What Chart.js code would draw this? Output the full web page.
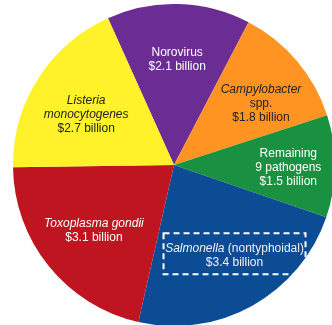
<!DOCTYPE html>
<html>
<head>
<meta charset="utf-8">
<script src="https://cdn.jsdelivr.net/npm/chart.js@4"></script>
<style>
  html, body { margin: 0; padding: 0; background: #fff; overflow: hidden; }
  body { width: 332px; height: 325px; position: relative; }
  #wrap { position: absolute; left: 13px; top: 4px; width: 322px; height: 322px; }
</style>
</head>
<body>
<div id="wrap"><canvas id="pieChart" width="322" height="322"></canvas></div>
<script>
// pathogens, clockwise from the top
const pathogens = ['Norovirus', 'Campylobacter spp.', 'Remaining 9 pathogens', 'Salmonella (nontyphoidal)', 'Toxoplasma gondii', 'Listeria monocytogenes'];
const costBillions = [2.1, 1.8, 1.5, 3.4, 3.1, 2.7];
const sliceColors = ['#6b2c94', '#ff9422', '#1a9140', '#0b4c94', '#be1521', '#fff22a'];

// label lines: [text, italic] parts per line
const labelLines = [
    [[['Norovirus', false]], [['$2.1 billion', false]]],
    [[['Campylobacter', true]], [['spp.', false]], [['$1.8 billion', false]]],
    [[['Remaining', false]], [['9 pathogens', false]], [['$1.5 billion', false]]],
    [[['Salmonella', true], [' (nontyphoidal)', false]], [['$3.4 billion', false]]],
    [[['Toxoplasma gondii', true]], [['$3.1 billion', false]]],
    [[['Listeria', true]], [['monocytogenes', true]], [['$2.7 billion', false]]],
];
const labelColors = ['#ffffff', '#222222', '#ffffff', '#f0f0f0', '#ffffff', '#222222'];

// small nudges for label placement (degrees, fraction of radius, px down)
const labelAngleShift = [0, 4, 0, -5, 0, -1];
const labelRadius = [0.67, 0.67, 0.71, 0.67, 0.64, 0.64];
const labelDrop = [3, 2, 2, 1, 1, 4];

const sliceLabels = {
    id: 'sliceLabels',
    afterDatasetsDraw(chart) {
        const ctx = chart.ctx;
        const meta = chart.getDatasetMeta(0);
        const lineH = 14;
        ctx.save();
        ctx.textBaseline = 'middle';
        meta.data.forEach((arc, i) => {
            const p = arc.getProps(['x', 'y', 'startAngle', 'endAngle', 'outerRadius'], true);
            const mid = (p.startAngle + p.endAngle) / 2 + labelAngleShift[i] * Math.PI / 180;
            const cx = p.x + Math.cos(mid) * p.outerRadius * labelRadius[i];
            const cy = p.y + Math.sin(mid) * p.outerRadius * labelRadius[i] + labelDrop[i];
            const lines = labelLines[i];
            const top = cy - (lines.length - 1) * lineH / 2;
            ctx.fillStyle = labelColors[i];
            lines.forEach((parts, j) => {
                let total = 0;
                parts.forEach(([t, it]) => {
                    ctx.font = (it ? 'italic ' : '') + '12px "Liberation Sans", Arial, sans-serif';
                    total += ctx.measureText(t).width;
                });
                let x = cx - total / 2;
                parts.forEach(([t, it]) => {
                    ctx.font = (it ? 'italic ' : '') + '12px "Liberation Sans", Arial, sans-serif';
                    ctx.textAlign = 'left';
                    ctx.fillText(t, x, top + j * lineH);
                    x += ctx.measureText(t).width;
                });
            });
            // dashed box around the Salmonella label
            if (i === 3) {
                ctx.strokeStyle = '#ffffff';
                ctx.lineWidth = 2;
                ctx.setLineDash([6, 4]);
                ctx.strokeRect(cx - 71, cy - 22, 142, 41);
                ctx.setLineDash([]);
            }
        });
        ctx.restore();
    }
};

new Chart(document.getElementById('pieChart'), {
    type: 'pie',
    data: {
        labels: pathogens,
        datasets: [{
            data: costBillions,
            backgroundColor: sliceColors,
            borderWidth: 0,
        }],
    },
    options: {
        responsive: false,
        animation: false,
        rotation: -24.2,
        layout: { padding: 0 },
        plugins: {
            legend: { display: false },
            tooltip: { enabled: false },
        },
    },
    plugins: [sliceLabels],
});
</script>
</body>
</html>
